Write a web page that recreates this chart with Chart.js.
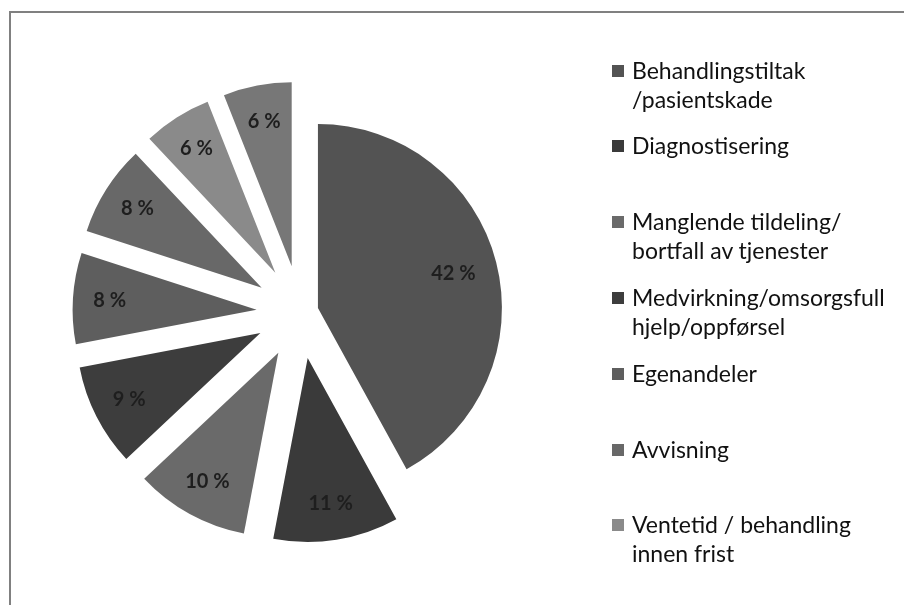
<!DOCTYPE html>
<html>
<head>
<meta charset="utf-8">
<script src="https://cdn.jsdelivr.net/npm/chart.js@4/dist/chart.umd.min.js"></script>
<style>
  html, body { margin: 0; padding: 0; background: #fff; }
  #wrap { position: relative; width: 904px; height: 605px; overflow: hidden; font-family: Lato, "Open Sans", sans-serif; }
  #frame { position: absolute; left: 9px; top: 11px; width: 920px; height: 640px; border: 2px solid #808080; box-sizing: border-box; }
  #pieBox { position: absolute; left: 0; top: 0; width: 601px; height: 605px; }
  #legend { position: absolute; left: 0; top: 0; width: 904px; height: 605px; pointer-events: none; }
  .item { position: absolute; left: 612px; font-size: 23px; line-height: 29px; color: #111; }
  .item .sw { position: absolute; left: 0; top: 9px; width: 12px; height: 12px; }
  .item .tx { position: absolute; left: 20px; top: 0; white-space: nowrap; }
</style>
</head>
<body>
<div id="wrap">
  <div id="frame"></div>
  <div id="pieBox"><canvas id="pie"></canvas></div>
  <div id="legend"></div>
</div>
<script>
// Kategorier (med linjeskift slik som i forklaringen)
const categories = [
  ['Behandlingstiltak', '/pasientskade'],
  ['Diagnostisering'],
  ['Manglende tildeling/', 'bortfall av tjenester'],
  ['Medvirkning/omsorgsfull', 'hjelp/oppførsel'],
  ['Egenandeler'],
  ['Avvisning'],
  ['Ventetid / behandling', 'innen frist'],
  ['Annet']
];
// Andel i prosent
const shares = [42, 11, 10, 9, 8, 8, 6, 6];
const sliceColors = ['#535353', '#3a3a3a', '#6a6a6a', '#3d3d3d', '#5e5e5e', '#686868', '#8a8a8a', '#777777'];
// Hvor langt hvert stykke er trukket ut (px)
const explode = [18, 46, 46, 45, 44, 46, 47, 47];

// Trekker stykkene ut fra sentrum (uten at radien endres)
const explodeSlices = {
  id: 'explodeSlices',
  beforeDatasetDraw(chart, args) {
    const ctx = chart.ctx;
    args.meta.data.forEach((arc, i) => {
      const p = arc.getProps(['startAngle', 'endAngle'], true);
      const mid = (p.startAngle + p.endAngle) / 2;
      ctx.save();
      ctx.translate(Math.cos(mid) * explode[i], Math.sin(mid) * explode[i]);
      arc.draw(ctx);
      ctx.restore();
    });
    return false;
  },
  // "42 %" osv. inne i hvert stykke
  afterDatasetsDraw(chart) {
    const ctx = chart.ctx;
    const meta = chart.getDatasetMeta(0);
    ctx.save();
    ctx.font = 'bold 20px Lato, sans-serif';
    ctx.fillStyle = '#1e1e1e';
    ctx.textAlign = 'center';
    ctx.textBaseline = 'middle';
    meta.data.forEach((arc, i) => {
      const p = arc.getProps(['x', 'y', 'startAngle', 'endAngle', 'outerRadius'], true);
      const mid = (p.startAngle + p.endAngle) / 2;
      const r = explode[i] + p.outerRadius * (i === 0 ? 0.76 : 0.8);
      ctx.fillText(shares[i] + ' %', p.x + Math.cos(mid) * r, p.y + Math.sin(mid) * r);
    });
    ctx.restore();
  }
};

new Chart(document.getElementById('pie').getContext('2d'), {
  type: 'pie',
  data: {
    labels: categories,
    datasets: [{
      data: shares,
      backgroundColor: sliceColors,
      borderWidth: 0
    }]
  },
  options: {
    responsive: true,
    maintainAspectRatio: false,
    animation: false,
    radius: 184,
    layout: { padding: { top: 20 } },
    plugins: { legend: { display: false }, tooltip: { enabled: false } }
  },
  plugins: [explodeSlices]
});

// Forklaring til høyre (de sju første som i originalen)
const legendEl = document.getElementById('legend');
categories.slice(0, 7).forEach((lines, i) => {
  const item = document.createElement('div');
  item.className = 'item';
  item.style.top = (70 - 14.5 + i * 75.8) + 'px';
  item.innerHTML = '<span class="sw" style="background:' + sliceColors[i] + '"></span>' +
    '<span class="tx">' + lines.join('<br>') + '</span>';
  legendEl.appendChild(item);
});
</script>
</body>
</html>
